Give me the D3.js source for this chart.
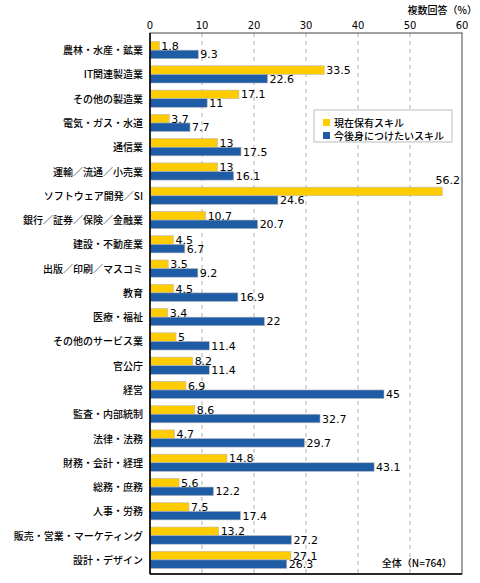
<!DOCTYPE html>
<html>
<head>
<meta charset="utf-8">
<script src="https://cdn.jsdelivr.net/npm/d3@7"></script>
<style>
  body { margin: 0; background: #fff; }
  svg { display: block; font-family: "Noto Sans CJK JP", "Noto Sans", sans-serif; }
  .num { font-family: "DejaVu Sans", sans-serif; }
</style>
</head>
<body>
<div id="chart"></div>
<script>
// 業種・職種カテゴリ
const categories = [
  "農林・水産・鉱業", "IT関連製造業", "その他の製造業", "電気・ガス・水道",
  "通信業", "運輸／流通／小売業", "ソフトウェア開発／SI", "銀行／証券／保険／金融業",
  "建設・不動産業", "出版／印刷／マスコミ", "教育", "医療・福祉",
  "その他のサービス業", "官公庁", "経営", "監査・内部統制",
  "法律・法務", "財務・会計・経理", "総務・庶務", "人事・労務",
  "販売・営業・マーケティング", "設計・デザイン"
];
// 現在保有スキル
const currentSkill = [1.8, 33.5, 17.1, 3.7, 13, 13, 56.2, 10.7, 4.5, 3.5, 4.5, 3.4,
  5, 8.2, 6.9, 8.6, 4.7, 14.8, 5.6, 7.5, 13.2, 27.1];
// 今後身につけたいスキル
const futureSkill = [9.3, 22.6, 11, 7.7, 17.5, 16.1, 24.6, 20.7, 6.7, 9.2, 16.9, 22,
  11.4, 11.4, 45, 32.7, 29.7, 43.1, 12.2, 17.4, 27.2, 26.3];
const seriesNames = ["現在保有スキル", "今後身につけたいスキル"];
const xTicks = [0, 10, 20, 30, 40, 50, 60];

const width = 480, height = 583;
const frame = { left: 150, right: 462, top: 33, bottom: 574 };
const colors = ["#FFCC00", "#1F5CA6"];

const svg = d3.select("#chart").append("svg")
  .attr("width", width).attr("height", height);

const x = d3.scaleLinear().domain([0, 60]).range([frame.left, frame.right]);
const y = d3.scaleBand().domain(categories).range([38, 572]);
const barH = 8.6;

// グリッド線（破線）
svg.append("g").selectAll("line")
  .data(xTicks.filter(t => t > 0 && t < 60))
  .join("line")
    .attr("x1", d => x(d)).attr("x2", d => x(d))
    .attr("y1", frame.top).attr("y2", frame.bottom)
    .attr("stroke", "#999").attr("stroke-width", 0.8)
    .attr("stroke-dasharray", "4,4");

// 上部目盛りラベル
svg.append("g").selectAll("text")
  .data(xTicks)
  .join("text")
    .attr("class", "num")
    .attr("x", d => x(d)).attr("y", 29)
    .attr("text-anchor", "middle")
    .style("font-size", "10px").attr("fill", "#000")
    .text(d => d);

svg.append("text")
  .attr("x", 477).attr("y", 14).attr("text-anchor", "end")
  .style("font-size", "10px").style("font-weight", 500).text("複数回答（%）");

// 棒
const rows = categories.map((c, i) => ({ cat: c, vals: [currentSkill[i], futureSkill[i]] }));
const group = svg.append("g").selectAll("g")
  .data(rows)
  .join("g")
    .attr("transform", d => `translate(0,${y(d.cat) + y.bandwidth() / 2 - barH})`);

group.selectAll("rect")
  .data(d => d.vals.map((v, k) => ({ v, k })))
  .join("rect")
    .attr("x", x(0))
    .attr("y", d => d.k * barH)
    .attr("width", d => x(d.v) - x(0))
    .attr("height", barH)
    .attr("fill", d => colors[d.k])
    .attr("stroke", "#b8b8b8").attr("stroke-width", 0.6);

// 値ラベル
group.selectAll("text")
  .data(d => d.vals.map((v, k) => ({ v, k })))
  .join("text")
    .attr("class", "num")
    .each(function(d) {
      const t = d3.select(this);
      const end = x(d.v);
      if (end + 26 > frame.right) {
        // 枠からはみ出す場合は棒の上に右寄せ
        t.attr("x", frame.right - 2).attr("y", d.k * barH - 3).attr("text-anchor", "end");
      } else {
        t.attr("x", end + 2).attr("y", d.k * barH + barH / 2 + 4).attr("text-anchor", "start");
      }
    })
    .style("font-size", "11px").attr("fill", "#000")
    .text(d => d.v);

// カテゴリラベル
svg.append("g").selectAll("text")
  .data(categories)
  .join("text")
    .attr("x", 143).attr("y", d => y(d) + y.bandwidth() / 2 + 4)
    .attr("text-anchor", "end")
    .style("font-size", "10px").style("font-weight", 500).attr("fill", "#000")
    .text(d => d);

// 枠線
svg.append("rect")
  .attr("x", frame.left).attr("y", frame.top)
  .attr("width", frame.right - frame.left).attr("height", frame.bottom - frame.top)
  .attr("fill", "none").attr("stroke", "#444").attr("stroke-width", 1);
svg.append("line")
  .attr("x1", frame.left).attr("x2", frame.left).attr("y1", frame.top).attr("y2", frame.bottom)
  .attr("stroke", "#000").attr("stroke-width", 1.5);
svg.append("line")
  .attr("x1", frame.left).attr("x2", frame.right).attr("y1", frame.bottom).attr("y2", frame.bottom)
  .attr("stroke", "#000").attr("stroke-width", 1.5);

// 凡例
const legend = svg.append("g").attr("transform", "translate(314,110)");
legend.append("rect")
  .attr("width", 138).attr("height", 32)
  .attr("fill", "#fff").attr("stroke", "#bbb").attr("stroke-width", 1);
seriesNames.forEach((name, i) => {
  const row = legend.append("g").attr("transform", `translate(9,${9 + i * 13})`);
  row.append("rect").attr("width", 7).attr("height", 7).attr("fill", colors[i]);
  row.append("text").attr("x", 11).attr("y", 7.5)
    .style("font-size", "10px").style("font-weight", 500).text(name);
});

svg.append("text")
  .attr("x", 452).attr("y", 567).attr("text-anchor", "end")
  .style("font-size", "10px").style("font-weight", 500).text("全体（N=764）");
</script>
</body>
</html>
